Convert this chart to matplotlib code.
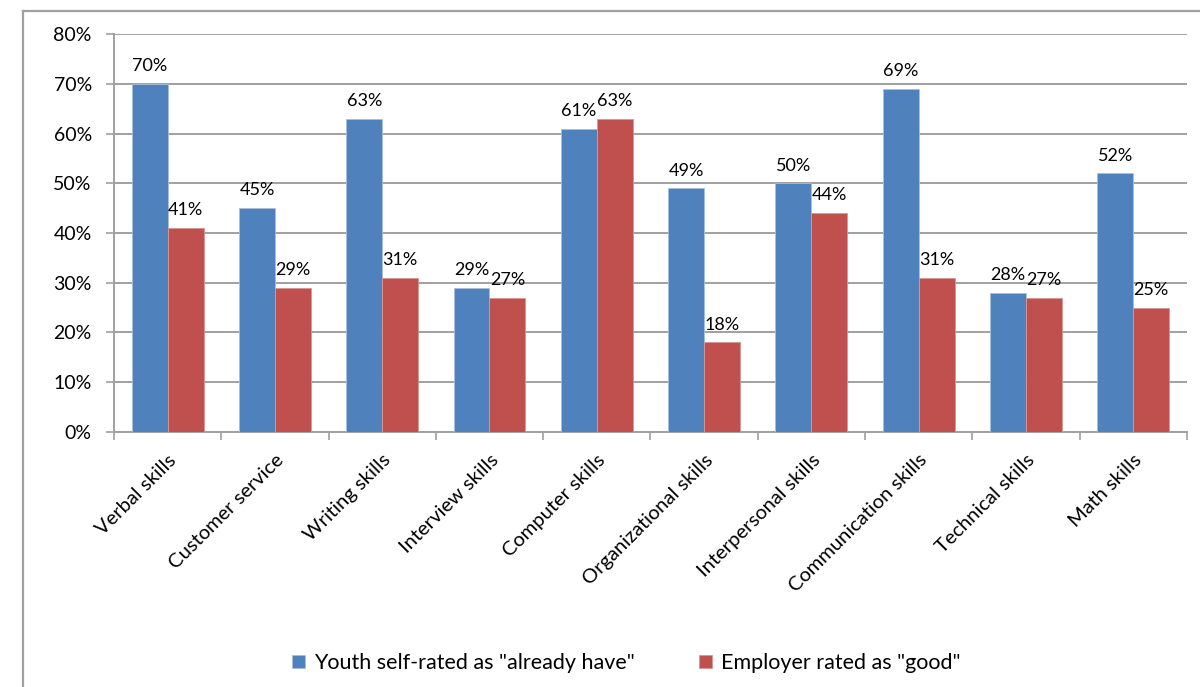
import numpy as np
import matplotlib.pyplot as plt
from matplotlib.lines import Line2D
from matplotlib.ticker import PercentFormatter

plt.rcParams["font.family"] = ["Lato", "DejaVu Sans"]

# data
skills = ["Verbal skills", "Customer service", "Writing skills", "Interview skills",
          "Computer skills", "Organizational skills", "Interpersonal skills",
          "Communication skills", "Technical skills", "Math skills"]
youth = [70, 45, 63, 29, 61, 49, 50, 69, 28, 52]
employer = [41, 29, 31, 27, 63, 18, 44, 31, 27, 25]
series_names = ['Youth self-rated as "already have"', 'Employer rated as "good"']

blue = "#4f81bd"
red = "#c0504d"
grid_grey = "#a0a0a0"

fig = plt.figure(figsize=(12, 6.87), dpi=100)
ax = fig.add_axes([0.095, 0.3712, 0.894, 0.5793])

x = np.arange(len(skills))
w = 0.335
b1 = ax.bar(x - w / 2, youth, w, color=blue, edgecolor="#a7bfdc", linewidth=0.6,
            label=series_names[0], zorder=3)
b2 = ax.bar(x + w / 2, employer, w, color=red, edgecolor="#d99694", linewidth=0.6,
            label=series_names[1], zorder=3)

for bars, vals in ((b1, youth), (b2, employer)):
    for r, v in zip(bars, vals):
        ax.annotate(f"{v}%", (r.get_x() + r.get_width() / 2, v),
                    xytext=(0, 7), textcoords="offset points",
                    ha="center", va="bottom", fontsize=13)

ax.set_xlim(-0.5, len(skills) - 0.5)
ax.set_ylim(0, 80)
ax.set_yticks(np.arange(0, 81, 10))
ax.yaxis.set_major_formatter(PercentFormatter(decimals=0))
ax.grid(axis="y", color=grid_grey, linewidth=1.4, zorder=0)

ax.set_xticks(x)
ax.set_xticklabels(skills, rotation=45, ha="right", rotation_mode="anchor", fontsize=14.5)
ax.set_xticks(np.arange(-0.5, len(skills)), minor=True)
ax.tick_params(axis="x", which="major", length=0, pad=14)
ax.tick_params(axis="x", which="minor", length=6, width=1.2, color=grid_grey, direction="out")
ax.tick_params(axis="y", length=6, width=1.2, color=grid_grey, labelsize=14, pad=10)

for side in ("top", "right"):
    ax.spines[side].set_visible(False)
for side in ("left", "bottom"):
    ax.spines[side].set_color(grid_grey)
    ax.spines[side].set_linewidth(1.4)

fig.legend(handles=[b1, b2], labels=series_names, loc="center",
           bbox_to_anchor=(0.522, 0.035), ncol=2, frameon=False, fontsize=15.5,
           handlelength=0.6, handleheight=0.6, handletextpad=0.4, columnspacing=3)

# chart frame
fig.add_artist(Line2D([23 / 1200, 23 / 1200], [0, 1 - 11 / 687],
                      transform=fig.transFigure, color=grid_grey, linewidth=1.6))
fig.add_artist(Line2D([23 / 1200, 1], [1 - 11 / 687, 1 - 11 / 687],
                      transform=fig.transFigure, color=grid_grey, linewidth=1.6))

plt.savefig("out.png", dpi=100)
